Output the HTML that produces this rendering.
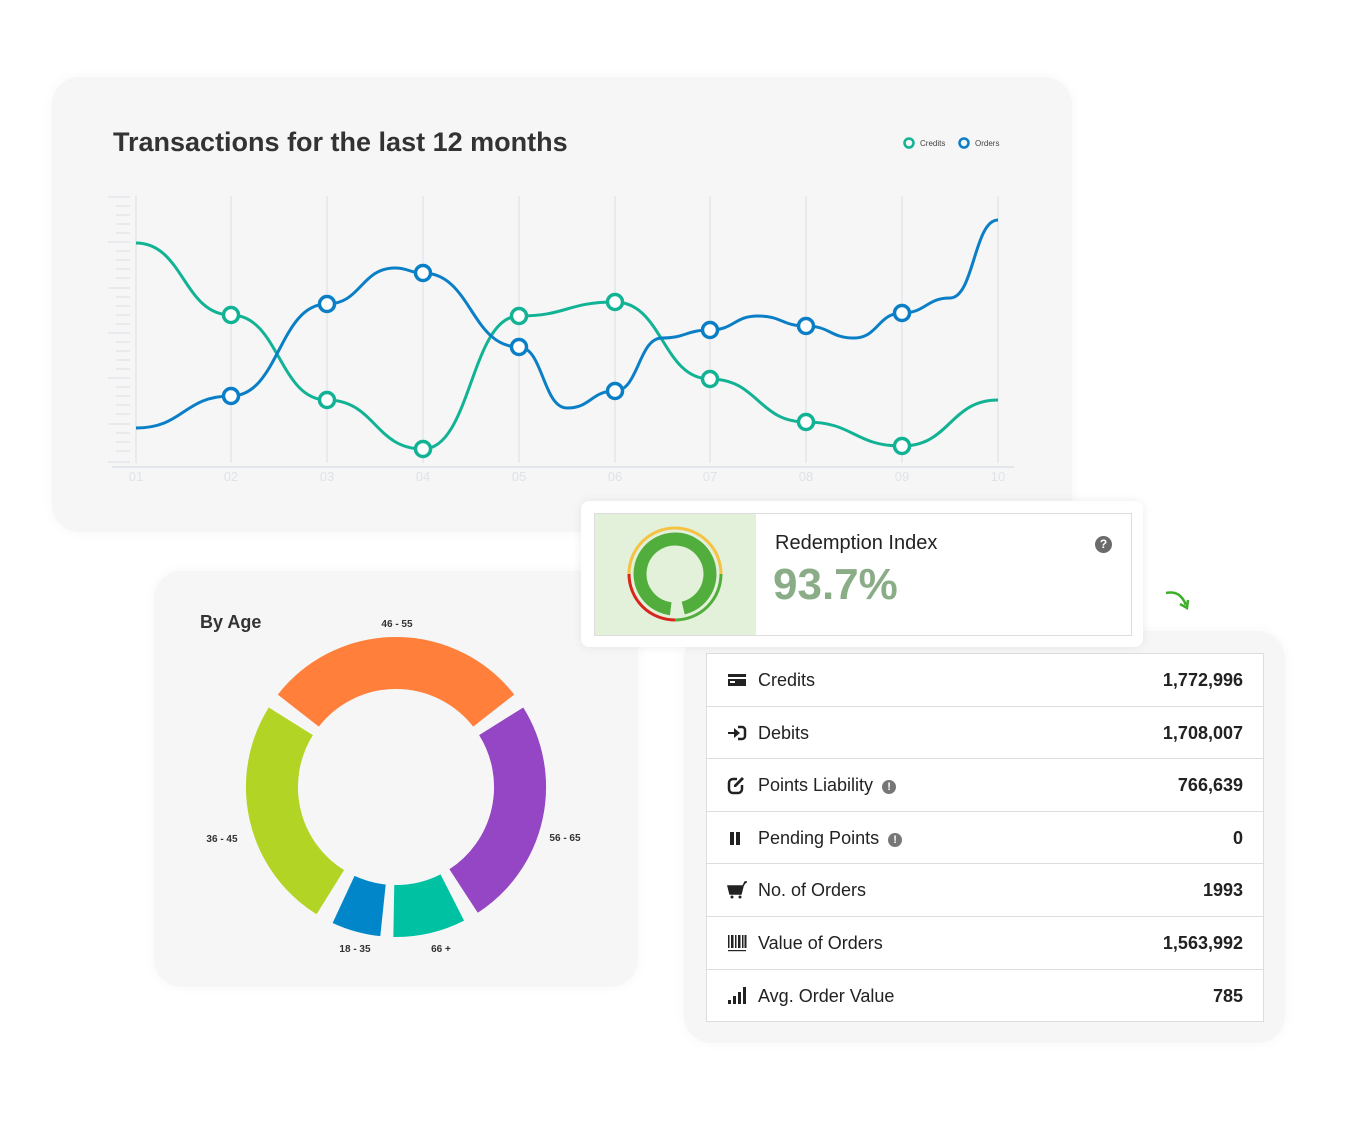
<!DOCTYPE html>
<html><head><meta charset="utf-8"><style>
body{margin:0;width:1350px;height:1132px;background:#fff;position:relative;font-family:"Liberation Sans",sans-serif;overflow:hidden}
.card{position:absolute;background:#f6f6f6;border-radius:28px;box-shadow:0 0 12px rgba(0,0,0,0.04)}
.t{position:absolute;white-space:nowrap}
.row{position:absolute;left:0;width:556px;height:51.6px;border-bottom:1px solid #ddd;font-size:18px;color:#222}
.row .l{position:absolute;left:51px;top:16px}
.row .r{position:absolute;right:20px;top:16px;font-weight:bold}
.row .ic{position:absolute;left:20px;top:16px;width:20px;height:20px}
.ex{display:inline-block;width:14px;height:14px;border-radius:50%;background:#777;color:#fff;font-size:11px;text-align:center;line-height:14px;font-weight:bold;vertical-align:1px;margin-left:4px}
</style></head><body>
<div class="card" style="left:52px;top:77px;width:1020px;height:455px"></div>
<div class="t" style="left:113px;top:127px;font-size:27px;font-weight:bold;color:#333">Transactions for the last 12 months</div>
<svg style="position:absolute;left:0;top:0" width="1350" height="1132">
<g font-family="Liberation Sans" font-size="8" fill="#444">
<circle cx="909" cy="143" r="4.5" fill="none" stroke="#12b294" stroke-width="2.5"/><text x="920" y="146">Credits</text>
<circle cx="964" cy="143" r="4.5" fill="none" stroke="#0a7fc6" stroke-width="2.5"/><text x="975" y="146">Orders</text>
</g>
<g stroke="#e3e6ea" stroke-width="1.5">
<line x1="136" y1="196" x2="136" y2="463"/><line x1="231" y1="196" x2="231" y2="463"/><line x1="327" y1="196" x2="327" y2="463"/><line x1="423" y1="196" x2="423" y2="463"/><line x1="519" y1="196" x2="519" y2="463"/><line x1="615" y1="196" x2="615" y2="463"/><line x1="710" y1="196" x2="710" y2="463"/><line x1="806" y1="196" x2="806" y2="463"/><line x1="902" y1="196" x2="902" y2="463"/><line x1="998" y1="196" x2="998" y2="463"/>
<line x1="112" y1="467" x2="1014" y2="467" stroke-width="2"/>
</g>
<path d="M136,243 C183.5,243 183.5,315 231,315 C279,315 279,400 327,400 C375,400 375,449 423,449 C471,449 471,316 519,316 C567,316 567,302 615,302 C662.5,302 662.5,379 710,379 C758,379 758,422 806,422 C854,422 854,446 902,446 C950,446 950,400 998,400" fill="none" stroke="#12b294" stroke-width="3"/>
<path d="M136,428 C183.5,428 183.5,396 231,396 C279,396 279,304 327,304 C361,304 361,268 395,268 C409,268 409,273 423,273 C471,273 471,347 519,347 C543,347 543,408 567,408 C591,408 591,391 615,391 C638.5,391 638.5,338 662,338 C686,338 686,330 710,330 C734,330 734,316 758,316 C782,316 782,326 806,326 C830,326 830,338 854,338 C878,338 878,313 902,313 C926,313 926,298 950,298 C974,298 974,220 998,220" fill="none" stroke="#0a7fc6" stroke-width="3"/>
<g fill="#fff" stroke="#12b294" stroke-width="3.5">
<circle cx="231" cy="315" r="7.5"/><circle cx="327" cy="400" r="7.5"/><circle cx="423" cy="449" r="7.5"/><circle cx="519" cy="316" r="7.5"/><circle cx="615" cy="302" r="7.5"/><circle cx="710" cy="379" r="7.5"/><circle cx="806" cy="422" r="7.5"/><circle cx="902" cy="446" r="7.5"/>
</g>
<g fill="#fff" stroke="#0a7fc6" stroke-width="3.5">
<circle cx="231" cy="396" r="7.5"/><circle cx="327" cy="304" r="7.5"/><circle cx="423" cy="273" r="7.5"/><circle cx="519" cy="347" r="7.5"/><circle cx="615" cy="391" r="7.5"/><circle cx="710" cy="330" r="7.5"/><circle cx="806" cy="326" r="7.5"/><circle cx="902" cy="313" r="7.5"/>
</g>
<g font-family="Liberation Sans" font-size="13" fill="#dfe3e7" text-anchor="middle">
<text x="136" y="481">01</text><text x="231" y="481">02</text><text x="327" y="481">03</text><text x="423" y="481">04</text><text x="519" y="481">05</text><text x="615" y="481">06</text><text x="710" y="481">07</text><text x="806" y="481">08</text><text x="902" y="481">09</text><text x="998" y="481">10</text>
</g>
</svg>
<svg style="position:absolute;left:0;top:0" width="140" height="470"><g stroke="#e3e6ea" stroke-width="1.5">
<line x1="108" y1="197" x2="130" y2="197"/><line x1="116" y1="206" x2="130" y2="206"/><line x1="116" y1="215" x2="130" y2="215"/><line x1="116" y1="224" x2="130" y2="224"/><line x1="116" y1="233" x2="130" y2="233"/><line x1="108" y1="242" x2="130" y2="242"/><line x1="116" y1="251" x2="130" y2="251"/><line x1="116" y1="260" x2="130" y2="260"/><line x1="116" y1="269" x2="130" y2="269"/><line x1="116" y1="278" x2="130" y2="278"/><line x1="108" y1="288" x2="130" y2="288"/><line x1="116" y1="297" x2="130" y2="297"/><line x1="116" y1="306" x2="130" y2="306"/><line x1="116" y1="315" x2="130" y2="315"/><line x1="116" y1="324" x2="130" y2="324"/><line x1="108" y1="333" x2="130" y2="333"/><line x1="116" y1="342" x2="130" y2="342"/><line x1="116" y1="351" x2="130" y2="351"/><line x1="116" y1="360" x2="130" y2="360"/><line x1="116" y1="369" x2="130" y2="369"/><line x1="108" y1="378" x2="130" y2="378"/><line x1="116" y1="387" x2="130" y2="387"/><line x1="116" y1="396" x2="130" y2="396"/><line x1="116" y1="405" x2="130" y2="405"/><line x1="116" y1="414" x2="130" y2="414"/><line x1="108" y1="424" x2="130" y2="424"/><line x1="116" y1="433" x2="130" y2="433"/><line x1="116" y1="442" x2="130" y2="442"/><line x1="116" y1="451" x2="130" y2="451"/><line x1="108" y1="462" x2="130" y2="462"/>
</g></svg>

<div class="card" style="left:154px;top:571px;width:484px;height:416px"></div>
<div class="t" style="left:200px;top:612px;font-size:18px;font-weight:bold;color:#333">By Age</div>
<svg style="position:absolute;left:0;top:0" width="1350" height="1132">
<g fill="none" stroke-width="52">
<path d="M298.3,710.6 A124,124 0 0 1 493.7,710.6" stroke="#ff7f3b"/>
<path d="M501.2,721.3 A124,124 0 0 1 463.6,891" stroke="#9446c4"/>
<path d="M452.3,897.5 A124,124 0 0 1 393.8,911" stroke="#00c2a3"/>
<path d="M383,910.3 A124,124 0 0 1 343.6,899.4" stroke="#0086c9"/>
<path d="M330.3,892.2 A124,124 0 0 1 290.8,721.3" stroke="#b2d424"/>
</g>
<g font-family="Liberation Sans" font-size="10" font-weight="bold" fill="#333" text-anchor="middle">
<text x="397" y="627">46 - 55</text><text x="565" y="841">56 - 65</text><text x="222" y="842">36 - 45</text><text x="355" y="952">18 - 35</text><text x="441" y="952">66 +</text>
</g>
</svg>

<div class="card" style="left:684px;top:631px;width:601px;height:412px"></div>
<div style="position:absolute;left:706px;top:653px;width:556px;height:367px;background:#fff;border:1px solid #ddd">
<div class="row" style="top:0"><svg class="ic" viewBox="0 0 20 20"><rect x="1" y="4" width="18" height="12" fill="#222"/><rect x="1" y="7" width="18" height="2" fill="#fff"/><rect x="3" y="11" width="5" height="2" fill="#fff"/></svg><span class="l">Credits</span><span class="r">1,772,996</span></div>
<div class="row" style="top:52.6px"><svg class="ic" viewBox="0 0 20 20"><path d="M11,4 h4 a3,3 0 0 1 3,3 v6 a3,3 0 0 1 -3,3 h-4" fill="none" stroke="#222" stroke-width="2.5"/><path d="M1,9 h6 v-4 l6,5 l-6,5 v-4 h-6z" fill="#222"/></svg><span class="l">Debits</span><span class="r">1,708,007</span></div>
<div class="row" style="top:105.2px"><svg class="ic" viewBox="0 0 20 20"><path d="M15,10 v4 a4,4 0 0 1 -4,4 h-5 a4,4 0 0 1 -4,-4 v-6 a4,4 0 0 1 4,-4 h4" fill="none" stroke="#222" stroke-width="2.5"/><path d="M7,12 l2,0 l8,-8 l-2,-2 l-8,8z" fill="#222"/></svg><span class="l">Points Liability <span class="ex">!</span></span><span class="r">766,639</span></div>
<div class="row" style="top:157.8px"><svg class="ic" viewBox="0 0 20 20"><rect x="3" y="4" width="4" height="13" fill="#222"/><rect x="9" y="4" width="4" height="13" fill="#222"/></svg><span class="l">Pending Points <span class="ex">!</span></span><span class="r">0</span></div>
<div class="row" style="top:210.4px"><svg class="ic" viewBox="0 0 20 20"><path d="M1,6 h15 l-2,8 h-11z M16,6 l2,-4 h2" fill="#222" stroke="#222" stroke-width="1.5"/><circle cx="5" cy="17" r="1.5" fill="#222"/><circle cx="13" cy="17" r="1.5" fill="#222"/></svg><span class="l">No. of Orders</span><span class="r">1993</span></div>
<div class="row" style="top:263px"><svg class="ic" viewBox="0 0 20 20" fill="#222"><rect x="1" y="2" width="1.5" height="13"/><rect x="4" y="2" width="2.5" height="13"/><rect x="8" y="2" width="1.5" height="13"/><rect x="11" y="2" width="2.5" height="13"/><rect x="15" y="2" width="1.5" height="13"/><rect x="17.5" y="2" width="2" height="13"/><rect x="1" y="17" width="18" height="1.2"/></svg><span class="l">Value of Orders</span><span class="r">1,563,992</span></div>
<div class="row" style="top:315.6px;border-bottom:none"><svg class="ic" viewBox="0 0 20 20" fill="#222"><rect x="1" y="14" width="3" height="4"/><rect x="6" y="10" width="3" height="8"/><rect x="11" y="6" width="3" height="12"/><rect x="16" y="1" width="3" height="17"/></svg><span class="l">Avg. Order Value</span><span class="r">785</span></div>
</div>

<svg style="position:absolute;left:1160px;top:585px" width="40" height="30"><path d="M6,8 C16,6 22,10 26,20" fill="none" stroke="#3fae2a" stroke-width="2.5"/><path d="M20,19 l7,4 l1,-8" fill="none" stroke="#3fae2a" stroke-width="2.5"/></svg>

<div style="position:absolute;left:581px;top:501px;width:562px;height:146px;background:#fff;border-radius:8px;box-shadow:0 0 10px rgba(0,0,0,0.08)"></div>
<div style="position:absolute;left:594px;top:513px;width:536px;height:121px;background:#fff;border:1px solid #ddd"></div>
<div style="position:absolute;left:595px;top:514px;width:161px;height:121px;background:#e3f0da"></div>
<svg style="position:absolute;left:0;top:0" width="1350" height="1132">
<g fill="none" stroke-width="3">
<path d="M629,574 A46,46 0 0 1 721,574" stroke="#f5c242"/>
<path d="M629,574 A46,46 0 0 0 675,620" stroke="#d9261c"/>
<path d="M721,574 A46,46 0 0 1 675,620" stroke="#52ae3c"/>
</g>
<circle cx="675" cy="574" r="35" fill="none" stroke="#52ae3c" stroke-width="13" stroke-dasharray="207 13" transform="rotate(97 675 574)"/>
</svg>
<div class="t" style="left:775px;top:532px;font-size:20px;color:#222">Redemption Index</div>
<div class="t" style="left:773px;top:560px;font-size:44px;font-weight:bold;color:#8aac86">93.7%</div>
<div class="t" style="left:1095px;top:536px;width:17px;height:17px;border-radius:50%;background:#6b6b6b;color:#fff;font-size:12px;font-weight:bold;text-align:center;line-height:17px">?</div>
</body></html>
